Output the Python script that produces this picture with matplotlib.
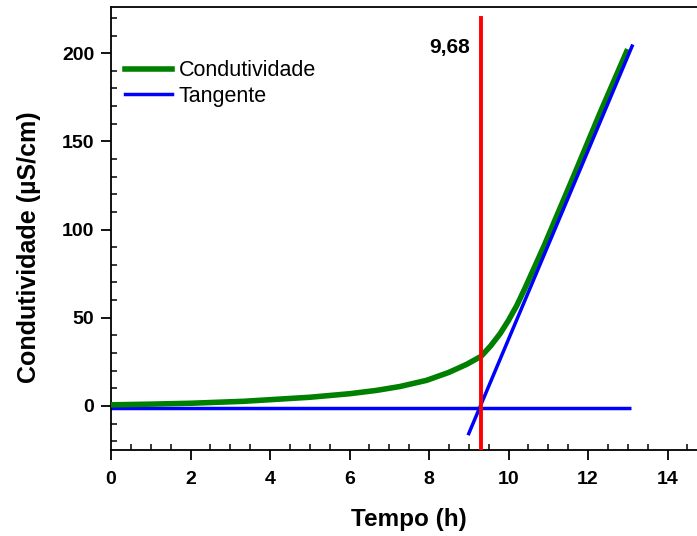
import numpy as np
import matplotlib
matplotlib.use('Agg')
import matplotlib.pyplot as plt
from matplotlib.ticker import MultipleLocator

plt.rcParams['font.family'] = ['Liberation Sans', 'DejaVu Sans']

# conductivity curve
tempo = [0.0, 1.0, 2.0, 3.33, 5.0, 6.0, 6.68, 7.27, 7.94, 8.5, 8.95, 9.31, 9.55, 9.79,
         10.0, 10.21, 10.42, 10.62, 10.9, 11.2, 11.67, 12.3, 12.97]
condutividade = [0.6, 1.0, 1.5, 2.6, 4.9, 6.9, 8.8, 11.0, 14.5, 19.0, 23.6, 28.1, 34.0, 41.0,
                 48.5, 57.0, 67.0, 77.0, 91.0, 107.0, 132.0, 166.0, 200.8]

# tangent line and baseline
tang_x = [9.0, 13.11]
tang_y = [-15.7, 204.0]
base_x = [-0.05, 13.08]
base_y = [-1.1, -1.1]

x_corte = 9.32
rotulo = '9,68'

fig = plt.figure(figsize=(6.97, 5.36), dpi=100)
W, H = 697, 536
left, right = 111, 111 + 15 * 39.75
bottom, top = 450, 7.3
ax = fig.add_axes([left / W, 1 - bottom / H, (right - left) / W, (bottom - top) / H])

ax.plot(base_x, base_y, color='#0000ff', lw=2.5, solid_capstyle='butt', zorder=2)
ax.plot(tempo, condutividade, color='#008000', lw=4.0, solid_joinstyle='round',
        label='Condutividade', zorder=3)
ax.plot(tang_x, tang_y, color='#0000ff', lw=2.5, label='Tangente', zorder=4)
ax.plot([x_corte, x_corte], [-25, 220], color='#ff0000', lw=2.8, zorder=5)

ax.text(9.02, 203.0, rotulo, ha='right', va='center', fontsize=15, fontweight='bold')

ax.set_xlim(0, 15)
ax.set_ylim(-25, 226)
ax.xaxis.set_major_locator(MultipleLocator(2))
ax.xaxis.set_minor_locator(MultipleLocator(0.5))
ax.yaxis.set_major_locator(MultipleLocator(50))
ax.yaxis.set_minor_locator(MultipleLocator(10))
ax.tick_params(which='major', direction='out', length=7, width=1.3, labelsize=14, pad=5)
ax.tick_params(axis='x', which='major', pad=8)
ax.tick_params(which='minor', direction='in', length=4, width=1.1)
for lab in ax.get_xticklabels() + ax.get_yticklabels():
    lab.set_fontweight('bold')
for s in ax.spines.values():
    s.set_linewidth(1.3)

ax.set_xlabel('Tempo (h)', fontsize=17.5, fontweight='bold')
ax.xaxis.set_label_coords(0.5, -0.132)
ax.set_ylabel('Condutividade (µS/cm)', fontsize=18, fontweight='bold')
ax.yaxis.set_label_coords(-0.118, 0.4586)

ax.legend(loc='upper left', bbox_to_anchor=(0.023, 0.88), frameon=False, fontsize=15.5,
          handlelength=2.2, handletextpad=0.3, labelspacing=0.19, borderpad=0,
          borderaxespad=0)

fig.savefig('out.png', dpi=100)
